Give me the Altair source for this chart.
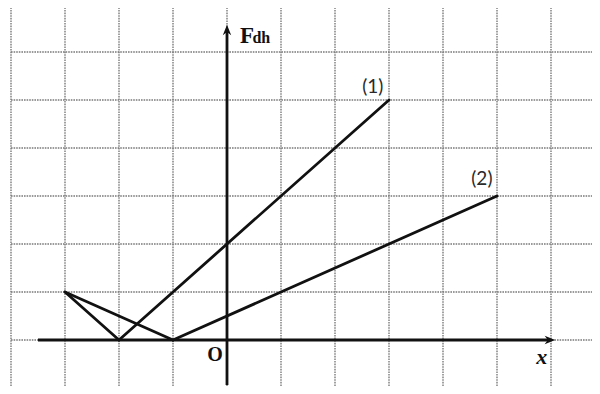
import altair as alt
import pandas as pd

# ---- data (in graph units: one grid cell = 1) ----
grid_x = [-4, -3, -2, -1, 0, 1, 2, 3, 4, 5, 6]
grid_y = [-1, 0, 1, 2, 3, 4, 5, 6]

seg_x1 = [-2, -1, -3, -3]
seg_y1 = [0, 0, 1, 1]
seg_x2 = [3, 5, -2, -1]
seg_y2 = [5, 3, 0, 0]

axis_x_range = [-3.5, 5.98]
axis_y_range = [-0.94, 6.46]

label_text = ["(1)", "(2)"]
label_x = [2.70, 4.72]
label_y = [5.27, 3.35]

W, H = 584, 378
OX, OY = 219, 332  # origin position inside the plot area
XMIN, XMAX = -OX / 54, (W - OX) / 54
YMIN, YMAX = -(H - OY) / 48, OY / 48

xs = alt.Scale(domain=[XMIN, XMAX], nice=False, zero=False)
ys = alt.Scale(domain=[YMIN, YMAX], nice=False, zero=False)

def X(f="x"):
    return alt.X(f"{f}:Q", scale=xs, axis=None)

def Y(f="y"):
    return alt.Y(f"{f}:Q", scale=ys, axis=None)

grid_color = "#7a7a7a"

vgrid = alt.Chart(pd.DataFrame({"x": grid_x, "y": [YMIN] * len(grid_x), "y2": [YMAX] * len(grid_x)})).mark_rule(
    color=grid_color, strokeWidth=1.4, strokeDash=[1.6, 1]
).encode(x=X(), y=Y(), y2="y2:Q")

hgrid = alt.Chart(pd.DataFrame({"y": grid_y, "x": [-4] * len(grid_y), "x2": [XMAX] * len(grid_y)})).mark_rule(
    color=grid_color, strokeWidth=1.4, strokeDash=[1.6, 1]
).encode(x=X(), x2="x2:Q", y=Y())

xaxis = alt.Chart(pd.DataFrame({"x": [axis_x_range[0]], "x2": [axis_x_range[1]], "y": [0]})).mark_rule(
    color="#111", strokeWidth=2.8
).encode(x=X(), x2="x2:Q", y=Y())

yaxis = alt.Chart(pd.DataFrame({"y": [axis_y_range[0]], "y2": [axis_y_range[1]], "x": [0]})).mark_rule(
    color="#111", strokeWidth=2.8
).encode(x=X(), y=Y(), y2="y2:Q")

arrow_path = "M1,0L-1,-0.8L-0.4,0L-1,0.8Z"
xarrow = alt.Chart(pd.DataFrame({"x": [axis_x_range[1]], "y": [0]})).mark_point(
    shape=arrow_path, filled=True, size=110, color="#111", opacity=1
).encode(x=X(), y=Y())
yarrow = alt.Chart(pd.DataFrame({"x": [0], "y": [axis_y_range[1]]})).mark_point(
    shape=arrow_path, filled=True, size=110, color="#111", opacity=1, angle=270
).encode(x=X(), y=Y())

segs = alt.Chart(pd.DataFrame({"x": seg_x1, "y": seg_y1, "x2": seg_x2, "y2": seg_y2})).mark_rule(
    color="#111", strokeWidth=2.8, strokeCap="round"
).encode(x=X(), y=Y(), x2="x2:Q", y2="y2:Q")

labels = alt.Chart(pd.DataFrame({"x": label_x, "y": label_y, "t": label_text})).mark_text(
    font="Lato", fontSize=19, color="#2a2a2a", align="center", baseline="middle"
).encode(x=X(), y=Y(), text="t:N")

F = alt.Chart(pd.DataFrame({"x": [0.24], "y": [6.19], "t": ["F"]})).mark_text(
    font="Liberation Serif", fontWeight="bold", fontSize=23, color="#111", align="left", baseline="alphabetic"
).encode(x=X(), y=Y(), text="t:N")
dh = alt.Chart(pd.DataFrame({"x": [0.47], "y": [6.19], "t": ["dh"]})).mark_text(
    font="Liberation Serif", fontWeight="bold", fontSize=16, color="#111", align="left", baseline="alphabetic"
).encode(x=X(), y=Y(), text="t:N")
O = alt.Chart(pd.DataFrame({"x": [-0.22], "y": [-0.31], "t": ["O"]})).mark_text(
    font="Liberation Serif", fontWeight="bold", fontSize=20, color="#111", align="center", baseline="middle"
).encode(x=X(), y=Y(), text="t:N")
xl = alt.Chart(pd.DataFrame({"x": [5.83], "y": [-0.35], "t": ["x"]})).mark_text(
    font="Liberation Serif", fontWeight="bold", fontStyle="italic", fontSize=22, color="#111", align="center", baseline="middle"
).encode(x=X(), y=Y(), text="t:N")

chart = alt.layer(vgrid, hgrid, xaxis, yaxis, segs, xarrow, yarrow, labels, F, dh, O, xl).properties(
    width=W, height=H, padding=0, autosize=alt.AutoSizeParams(type="none")
).configure_view(stroke=None)

chart.save("out.html", embed_options={"renderer": "svg", "actions": False})
